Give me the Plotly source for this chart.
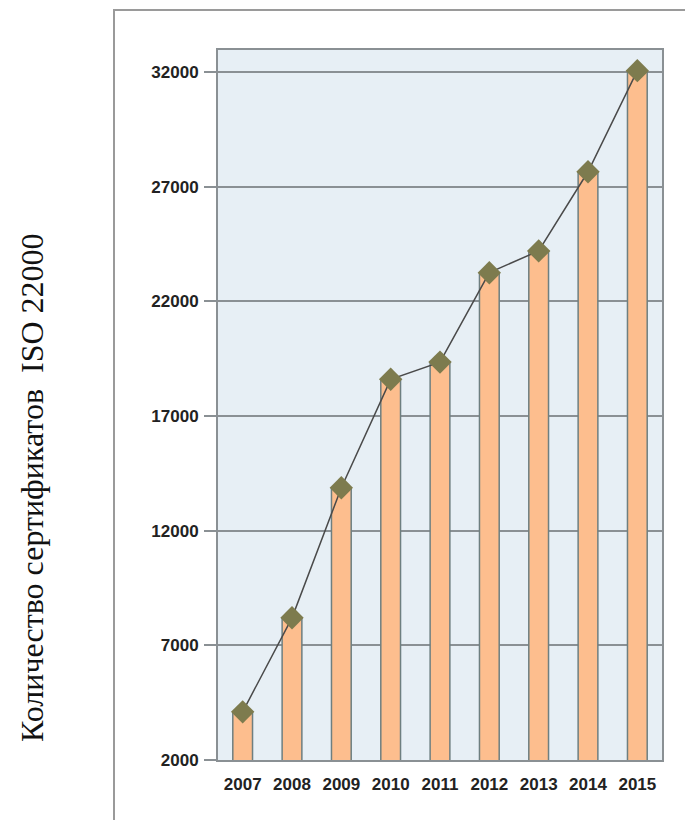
import plotly.graph_objects as go

years = ["2007", "2008", "2009", "2010", "2011", "2012", "2013", "2014", "2015"]
certificates = [4100, 8200, 13870, 18600, 19350, 23250, 24200, 27650, 32060]
y_ticks = [2000, 7000, 12000, 17000, 22000, 27000, 32000]
y_title = "Количество сертификатов  ISO 22000"

W, H = 685, 820
L, R, T, B = 218, 23, 50, 60
pw, ph = W - L - R, H - T - B

def px(x):
    return (x - L) / pw

def py(y):
    return (H - B - y) / ph

grid_col = "#8A9094"
tick_font = dict(family="Liberation Sans Narrow, Liberation Sans, Arial", size=17, color="#222222")

fig = go.Figure()
fig.add_trace(go.Bar(
    x=years, y=certificates, width=0.4,
    marker=dict(color="#FDBE8E", line=dict(color="#6E7F80", width=1.5)),
    showlegend=False, hoverinfo="skip",
))
fig.add_trace(go.Scatter(
    x=years, y=certificates, mode="lines+markers",
    line=dict(color="#4A4A4A", width=1.5),
    marker=dict(symbol="diamond", size=18, color="#7D7B4E"),
    showlegend=False,
))

fig.update_layout(
    width=W, height=H,
    margin=dict(l=L, r=R, t=T, b=B),
    paper_bgcolor="white",
    plot_bgcolor="#E7EFF5",
    xaxis=dict(
        type="category", range=[-0.5, 8.5],
        tickvals=years, ticktext=[f"<b>{y}</b>" for y in years],
        showgrid=False, showline=True, mirror=True,
        linecolor=grid_col, linewidth=2, ticks="",
        tickfont=tick_font,
        ticklabelstandoff=8,
    ),
    yaxis=dict(
        range=[2000, 32960], tickvals=y_ticks,
        ticktext=[f"<b>{v}</b>" for v in y_ticks],
        showgrid=True, gridcolor=grid_col, gridwidth=2,
        showline=True, mirror=True, linecolor=grid_col, linewidth=2,
        ticks="outside", ticklen=12, tickcolor=grid_col, tickwidth=2,
        zeroline=False,
        tickfont=tick_font,
        ticklabelstandoff=2,
    ),
    font=dict(family="Liberation Sans"),
)

fig.add_shape(
    type="rect", xref="paper", yref="paper",
    x0=px(114), x1=px(700), y0=py(840), y1=py(10),
    line=dict(color="#9A9A9A", width=2), fillcolor="rgba(0,0,0,0)", layer="below",
)

fig.add_annotation(
    text=y_title, xref="paper", yref="paper",
    x=px(32), y=py(488), showarrow=False, textangle=-90,
    font=dict(family="Liberation Serif, Times New Roman", size=32, color="#111111"),
    xanchor="center", yanchor="middle",
)

fig.write_html("out.html")
